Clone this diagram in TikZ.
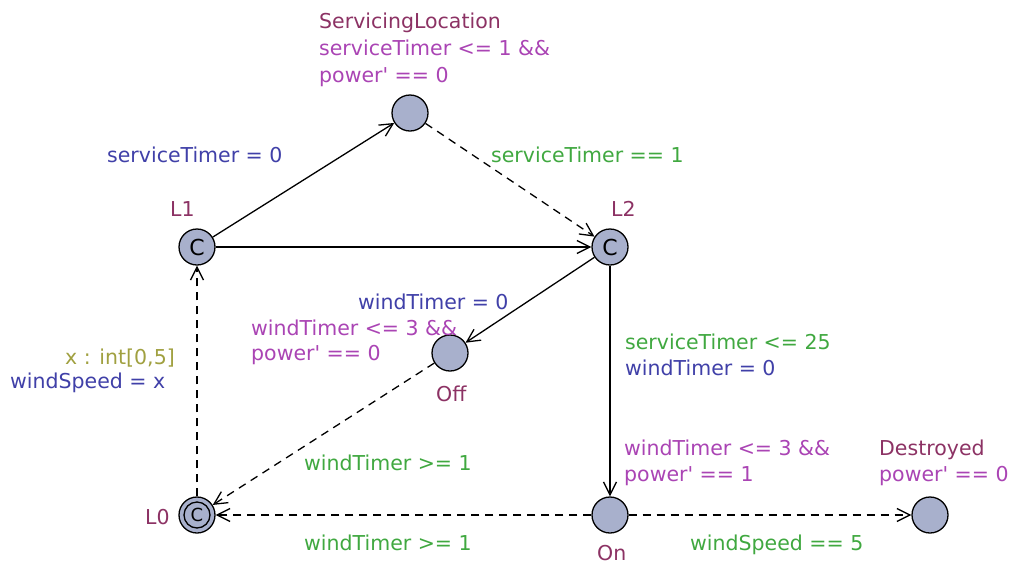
\documentclass[tikz,border=0pt]{standalone}
\usepackage{fontspec}
\setmainfont{DejaVu Sans}
\newfontfamily\dv{DejaVu Sans}
\usetikzlibrary{arrows.meta}
\definecolor{locfill}{HTML}{A8B0CC}
\definecolor{namec}{RGB}{140,50,100}
\definecolor{invc}{RGB}{170,68,180}
\definecolor{guardc}{RGB}{64,168,64}
\definecolor{assignc}{RGB}{64,64,168}
\definecolor{selc}{RGB}{160,160,64}
\tikzset{
  loc/.style={circle, draw=black, fill=locfill, line width=1.3pt, minimum size=36pt, inner sep=0pt},
  lbl/.style={anchor=base west, inner sep=0pt, font=\dv\fontsize{20.5}{27}\selectfont},
  lble/.style={anchor=base east, inner sep=0pt, font=\dv\fontsize{20.5}{27}\selectfont},
  edge/.style={line width=1.3pt, -{Straight Barb[length=13pt,width=13pt,line width=1.3pt]}},
  dedge/.style={edge, dash pattern=on 8pt off 6pt},
}
\begin{document}
\begin{tikzpicture}[x=1pt,y=-1pt]
\useasboundingbox (0,0) rectangle (1011,563);
% locations
\node[loc, font=\dv\fontsize{22}{22}\selectfont] (L1) at (197,247) {C};
\node[loc, font=\dv\fontsize{22}{22}\selectfont] (L2) at (610,247) {C};
\node[loc] (SL) at (410,113) {};
\node[loc] (Off) at (450,353) {};
\node[loc] (L0) at (197,515) {};
\node[circle, draw=black, line width=1.3pt, minimum size=26pt, inner sep=0pt, font=\dv\fontsize{18}{18}\selectfont] (L0i) at (197,515) {C};
\node[loc] (On) at (610,515) {};
\node[loc] (Des) at (930,515) {};
% edges
\draw[edge] (L1) -- (SL);
\draw[dedge] (SL) -- (L2);
\draw[edge] (L1) -- (L2);
\draw[edge] (L2) -- (Off);
\draw[dedge] (Off) -- (L0);
\draw[edge] (L2) -- (On);
\draw[dedge] (On) -- (L0);
\draw[dedge] (On) -- (Des);
\draw[dedge] (L0) -- (L1);
% location labels
\node[lbl, text=namec] (nSL) at (319,28) {ServicingLocation};
\node[lbl, text=invc] (iSL1) at (319,55) {serviceTimer <= 1 \&\&};
\node[lbl, text=invc] (iSL2) at (319,82) {power' == 0};
\node[lbl, text=namec] (nL1) at (170,216) {L1};
\node[lbl, text=namec] (nL2) at (611,216) {L2};
\node[lbl, text=invc] (iOff1) at (251,335) {windTimer <= 3 \&\&};
\node[lbl, text=invc] (iOff2) at (251,360) {power' == 0};
\node[lbl, text=namec] (nOff) at (436,401) {Off};
\node[lbl, text=invc] (iOn1) at (624,455) {windTimer <= 3 \&\&};
\node[lbl, text=invc] (iOn2) at (624,481) {power' == 1};
\node[lbl, text=namec] (nOn) at (597,560) {On};
\node[lbl, text=namec] (nDes) at (879,455) {Destroyed};
\node[lbl, text=invc] (iDes) at (879,481) {power' == 0};
\node[lbl, text=namec] (nL0) at (145,524) {L0};
% edge labels
\node[lbl, text=assignc] (a1) at (107,162) {serviceTimer = 0};
\node[lbl, text=guardc] (g1) at (491,162) {serviceTimer == 1};
\node[lbl, text=assignc] (a2) at (358,309) {windTimer = 0};
\node[lbl, text=guardc] (g2) at (625,349) {serviceTimer <= 25};
\node[lbl, text=assignc] (a3) at (625,375) {windTimer = 0};
\node[lble, text=selc] (s1) at (175,364) {x : int[0,5]};
\node[lbl, text=assignc] (a4) at (10,388) {windSpeed = x};
\node[lbl, text=guardc] (g3) at (304,470) {windTimer >= 1};
\node[lbl, text=guardc] (g4) at (304,550) {windTimer >= 1};
\node[lbl, text=guardc] (g5) at (690,550) {windSpeed == 5};
\end{tikzpicture}
\end{document}
